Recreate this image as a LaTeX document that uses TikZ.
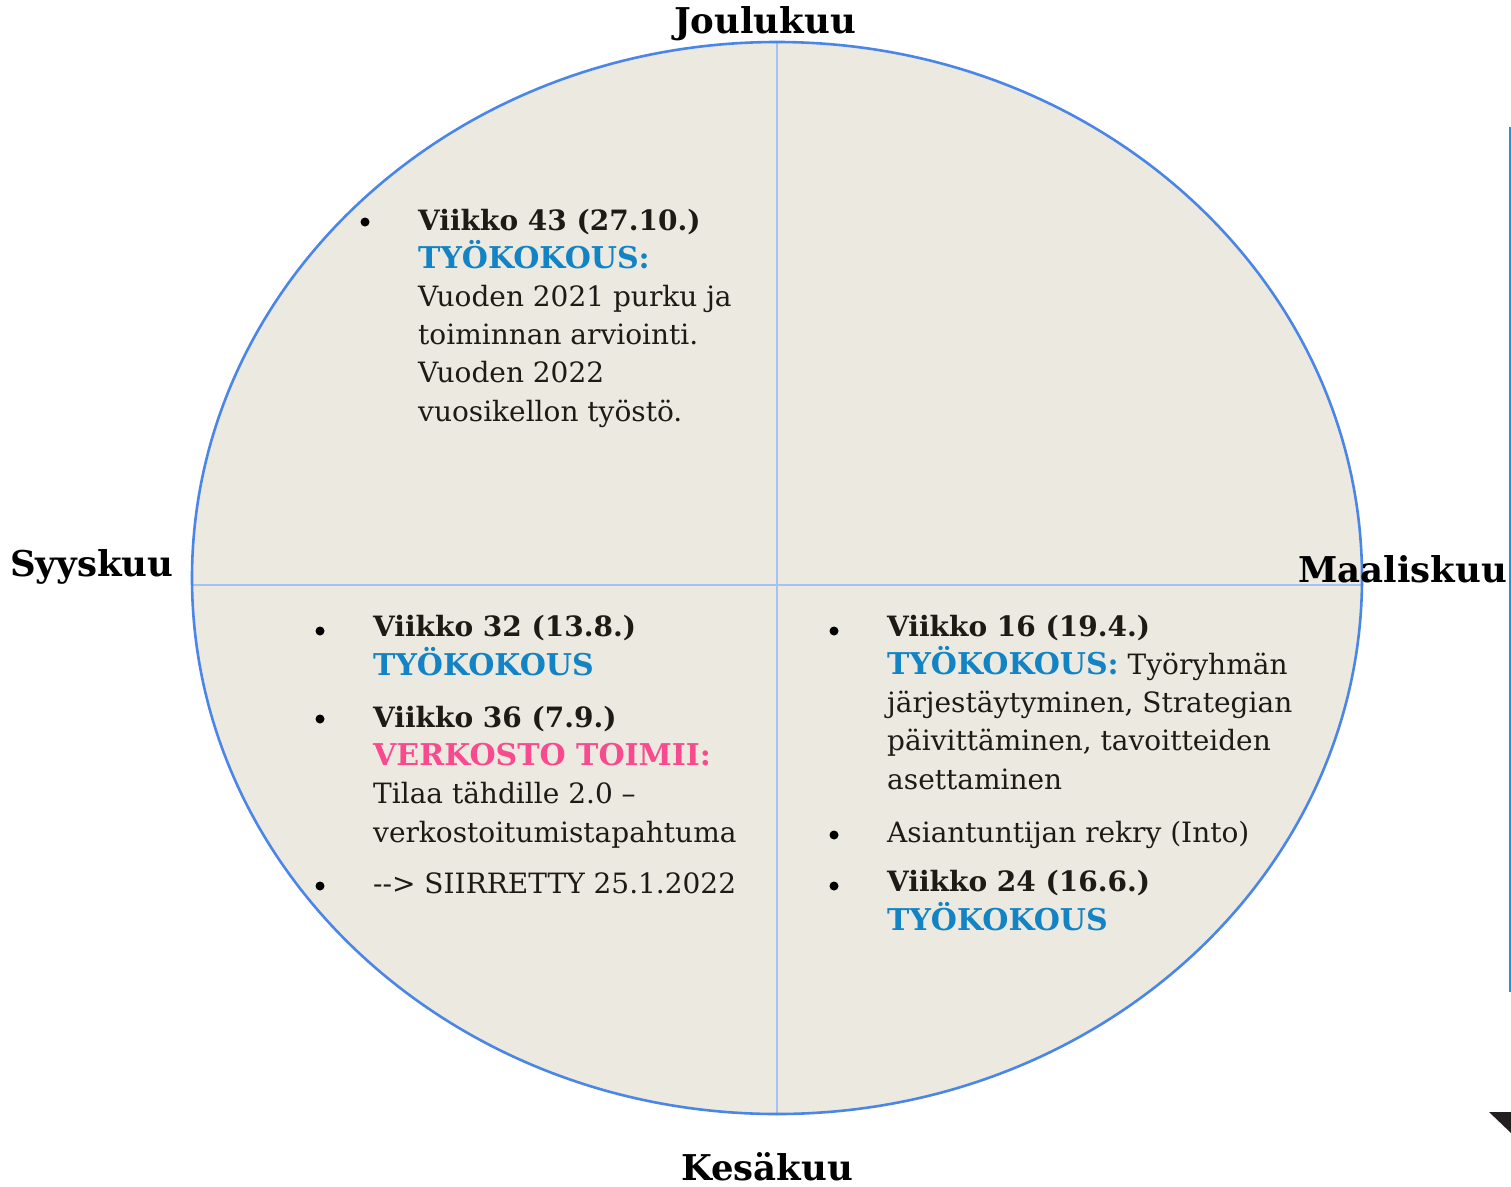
\documentclass[tikz,border=0pt]{standalone}
\usepackage{fontspec}
\setmainfont{DejaVu Serif}
\usepackage{tikz}
\usetikzlibrary{positioning}
\definecolor{paper}{HTML}{ECEAE0}
\definecolor{rim}{HTML}{4A86E8}
\definecolor{axis}{HTML}{A4C2F4}
\definecolor{meet}{HTML}{1283C4}
\definecolor{pinkish}{HTML}{F84A8E}
\definecolor{ink}{HTML}{1E1B16}
\definecolor{bar}{HTML}{2B8FD9}
\definecolor{corner}{HTML}{231F20}
\tikzset{
  month/.style={font=\fontsize{35.5}{40}\selectfont\bfseries, inner sep=0pt},
  item/.style={font=\fontsize{28}{38.2}\selectfont, align=left, inner sep=0pt, anchor=base west, text=ink},
  dot/.style={circle, fill=black, inner sep=0pt, minimum size=9pt},
}
\newcommand{\wk}[1]{\textbf{#1}}
\newcommand{\mt}[1]{\textcolor{meet}{\fontsize{30}{38.2}\selectfont\textbf{#1}}}
\newcommand{\net}[1]{\textcolor{pinkish}{\fontsize{30}{38.2}\selectfont\textbf{#1}}}

\begin{document}
\begin{tikzpicture}[x=1pt,y=-1pt]
  \useasboundingbox (0,0) rectangle (1511,1186);
  % the year wheel
  \coordinate (C) at (777,578);
  \coordinate (N) at (777,42);
  \coordinate (S) at (777,1114);
  \coordinate (W) at (192,585);
  \coordinate (E) at (1362,585);
  \fill[paper] (C) ellipse [x radius=585pt, y radius=536pt];
  \draw[axis, line width=2pt] (N) -- (S);
  \draw[axis, line width=2pt] (W) -- (E);
  \draw[rim, line width=2.6pt] (C) ellipse [x radius=585pt, y radius=536pt];
  % months
  \node[month, anchor=base] (dec) at (765,33) {Joulukuu};
  \node[month, anchor=base west] (sep) at (10,576) {Syyskuu};
  \node[month, anchor=base east] (mar) at (1507,582) {Maaliskuu};
  \node[month, anchor=base] (jun) at (767,1180) {Kesäkuu};
  % autumn (nodes sit on their last line)
  \node[item] (w43) at (418,421) {\wk{Viikko 43 (27.10.)}\\ \mt{TYÖKOKOUS:}\\ Vuoden 2021 purku ja\\ toiminnan arviointi.\\ Vuoden 2022\\ vuosikellon työstö.};
  \node[dot] (b43) at (365,222) {};
  % summer
  \node[item] (w32) at (373,675) {\wk{Viikko 32 (13.8.)}\\ \mt{TYÖKOKOUS}};
  \node[item] (w36) at (373,842) {\wk{Viikko 36 (7.9.)}\\ \net{VERKOSTO TOIMII:}\\ Tilaa tähdille 2.0 –\\ verkostoitumistapahtuma};
  \node[item] (sir) at (373,893) {-{}-> SIIRRETTY 25.1.2022};
  \node[dot] (b32) at (320,631) {};
  \node[dot] (b36) at (320,719) {};
  \node[dot] (bsir) at (320,886) {};
  % spring
  \node[item] (w16) at (887,789) {\wk{Viikko 16 (19.4.)}\\ \mt{TYÖKOKOUS:} Työryhmän\\ järjestäytyminen, Strategian\\ päivittäminen, tavoitteiden\\ asettaminen};
  \node[item] (into) at (887,842) {Asiantuntijan rekry (Into)};
  \node[item] (w24) at (887,930) {\wk{Viikko 24 (16.6.)}\\ \mt{TYÖKOKOUS}};
  \node[dot] (b16) at (834,631) {};
  \node[dot] (binto) at (834,835) {};
  \node[dot] (b24) at (834,886) {};
  % edge marks
  \coordinate (T) at (1510,127);
  \coordinate (B) at (1510,992);
  \draw[bar, line width=2.5pt] (T) -- (B);
  \fill[corner] (1489,1112) -- (1511,1112) -- (1511,1133) -- cycle;
\end{tikzpicture}
\end{document}
